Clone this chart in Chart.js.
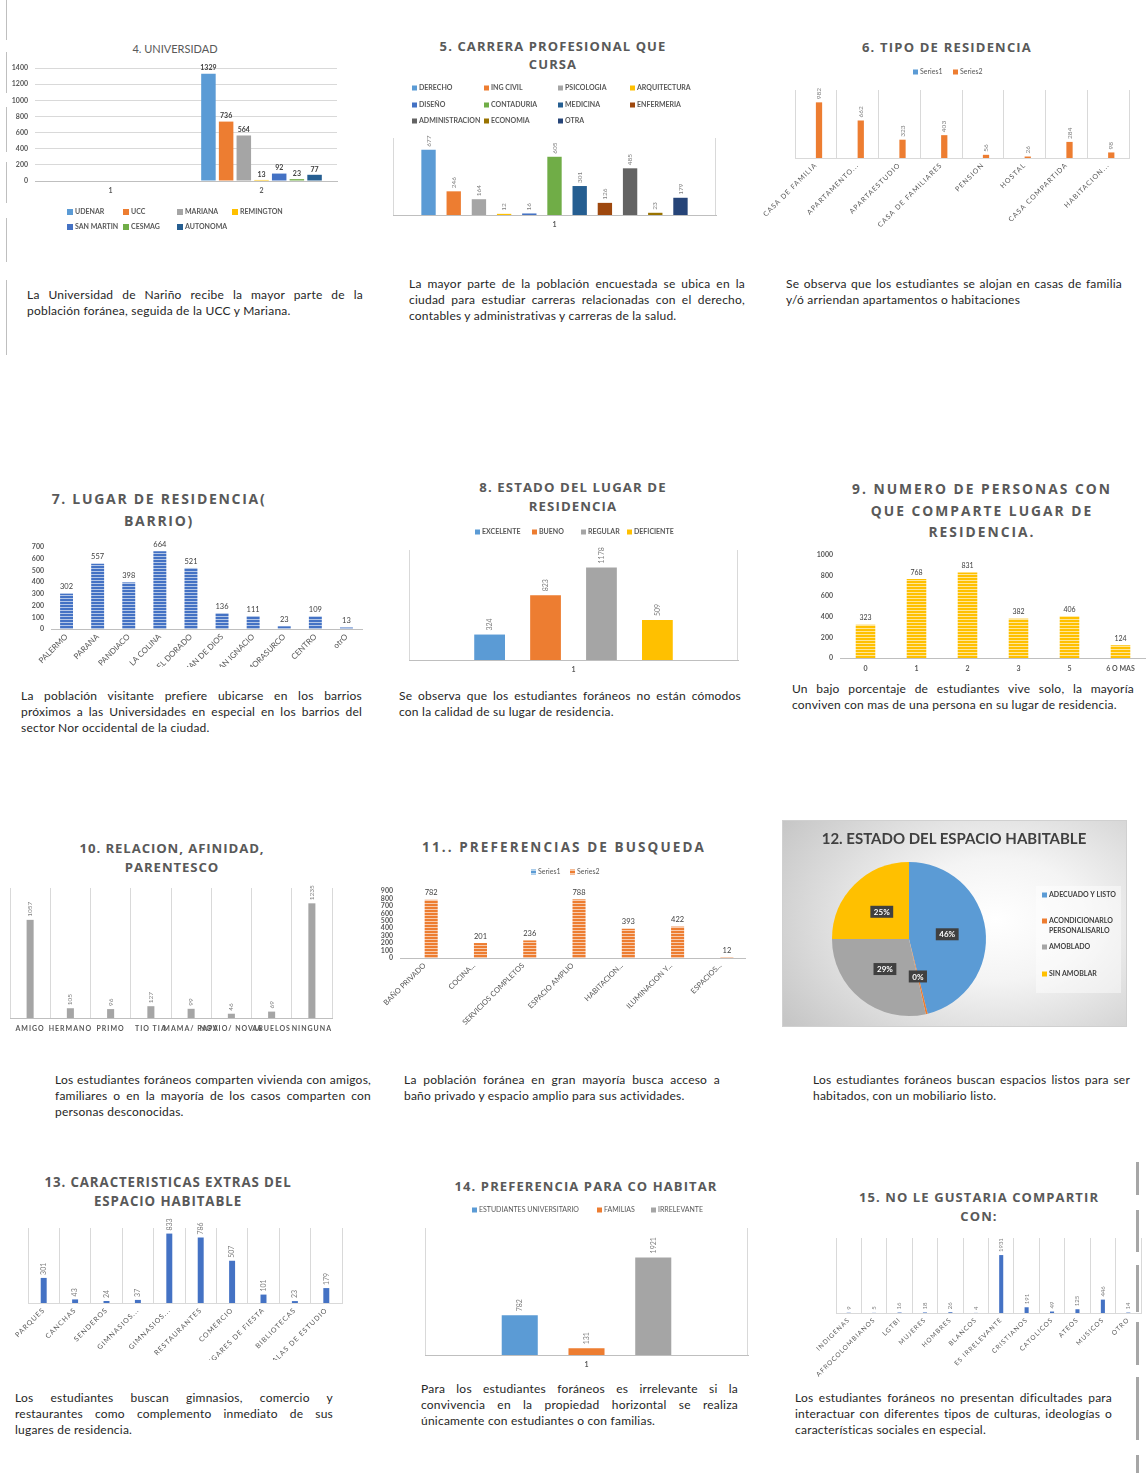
<!DOCTYPE html>
<html>
<head>
<meta charset="utf-8">
<script src="https://cdn.jsdelivr.net/npm/chart.js@4.4.1/dist/chart.umd.min.js"></script>
<style>
html, body { margin: 0; padding: 0; background: #fff; }
body { width: 1146px; height: 1473px; position: relative; overflow: hidden; font-family: Lato, "Open Sans", sans-serif; }
.box { position: absolute; }
.t { position: absolute; transform: translateX(-50%); white-space: nowrap; text-align: center;
     font-family: "Open Sans", sans-serif; font-weight: 700; color: #595959; }
.d { position: absolute; font-size: 12px; letter-spacing: 0.22px; line-height: 16px; color: #262626; }
.d span { display: block; text-align: left; white-space: nowrap; }
.d span.j { text-align: justify; text-align-last: justify; }
.vl { position: absolute; background: #bfbfbf; }
</style>
</head>
<body>

<!-- side marks -->
<div class="vl" style="left:6px;top:0;width:1px;height:40px"></div>
<div class="vl" style="left:6px;top:52px;width:1px;height:41px"></div>
<div class="vl" style="left:6px;top:107px;width:1px;height:45px"></div>
<div class="vl" style="left:6px;top:162px;width:1px;height:41px"></div>
<div class="vl" style="left:6px;top:218px;width:1px;height:44px"></div>
<div class="vl" style="left:6px;top:280px;width:1px;height:75px"></div>
<div class="vl" style="left:1136px;top:1162px;width:3px;height:33px;background:#a6a6a6"></div>
<div class="vl" style="left:1136px;top:1210px;width:3px;height:42px;background:#a6a6a6"></div>
<div class="vl" style="left:1136px;top:1265px;width:3px;height:47px;background:#a6a6a6"></div>
<div class="vl" style="left:1136px;top:1322px;width:3px;height:43px;background:#a6a6a6"></div>
<div class="vl" style="left:1136px;top:1377px;width:3px;height:63px;background:#a6a6a6"></div>
<div class="vl" style="left:1136px;top:1455px;width:3px;height:18px;background:#a6a6a6"></div>

<!-- row 1 -->
<div class="t" style="left:175px;top:41px;font-family:Lato,sans-serif;font-weight:400;font-size:11px;line-height:16px">4. UNIVERSIDAD</div>
<div class="box" style="left:0;top:55px;width:345px;height:185px"><canvas id="c4"></canvas></div>

<div class="t" style="left:553px;top:37px;font-size:13px;line-height:18px;letter-spacing:1.1px">5. CARRERA PROFESIONAL QUE<br>CURSA</div>
<div class="box" style="left:385px;top:78px;width:340px;height:160px"><canvas id="c5"></canvas></div>

<div class="t" style="left:947px;top:38px;font-size:13px;line-height:18px;letter-spacing:1.2px">6. TIPO DE RESIDENCIA</div>
<div class="box" style="left:756px;top:62px;width:390px;height:178px"><canvas id="c6"></canvas></div>

<div class="d" style="left:27px;top:287px;width:336px"><span class="j">La Universidad de Nariño recibe la mayor parte de la</span><span>población foránea, seguida de la UCC y Mariana.</span></div>
<div class="d" style="left:409px;top:276px;width:336px"><span class="j">La mayor parte de la población encuestada se ubica en la</span><span class="j">ciudad para estudiar carreras relacionadas con el derecho,</span><span>contables y administrativas y carreras de la salud.</span></div>
<div class="d" style="left:786px;top:276px;width:336px"><span class="j">Se observa que los estudiantes se alojan en casas de familia</span><span>y/ó arriendan apartamentos o habitaciones</span></div>

<!-- row 2 -->
<div class="t" style="left:159px;top:488px;font-size:14px;line-height:22px;letter-spacing:1.7px">7. LUGAR DE RESIDENCIA(<br>BARRIO)</div>
<div class="box" style="left:0;top:530px;width:375px;height:137px"><canvas id="c7"></canvas></div>

<div class="t" style="left:573px;top:478px;font-size:13.2px;line-height:19px;letter-spacing:1.1px">8. ESTADO DEL LUGAR DE<br>RESIDENCIA</div>
<div class="box" style="left:390px;top:520px;width:365px;height:160px"><canvas id="c8"></canvas></div>

<div class="t" style="left:982px;top:478px;font-size:13.8px;line-height:21.5px;letter-spacing:2px">9. NUMERO DE PERSONAS CON<br>QUE COMPARTE LUGAR DE<br>RESIDENCIA.</div>
<div class="box" style="left:800px;top:545px;width:346px;height:135px"><canvas id="c9"></canvas></div>

<div class="d" style="left:21px;top:688px;width:341px"><span class="j">La población visitante prefiere ubicarse en los barrios</span><span class="j">próximos a las Universidades en especial en los barrios del</span><span>sector Nor occidental de la ciudad.</span></div>
<div class="d" style="left:399px;top:688px;width:342px"><span class="j">Se observa que los estudiantes foráneos no están cómodos</span><span>con la calidad de su lugar de residencia.</span></div>
<div class="d" style="left:792px;top:681px;width:342px"><span class="j">Un bajo porcentaje de estudiantes vive solo, la mayoría</span><span>conviven con mas de una persona en su lugar de residencia.</span></div>

<!-- row 3 -->
<div class="t" style="left:172px;top:839px;font-size:13.2px;line-height:19px;letter-spacing:0.9px">10. RELACION, AFINIDAD,<br>PARENTESCO</div>
<div class="box" style="left:0;top:880px;width:345px;height:160px"><canvas id="c10"></canvas></div>

<div class="t" style="left:564px;top:837px;font-size:13.5px;line-height:20px;letter-spacing:2.1px">11.. PREFERENCIAS DE BUSQUEDA</div>
<div class="box" style="left:375px;top:862px;width:375px;height:178px"><canvas id="c11"></canvas></div>

<div class="box" style="left:782px;top:820px;width:345px;height:207px;box-sizing:border-box;border:1px solid #d0d0d0;background:radial-gradient(ellipse 75% 85% at 62% 48%, #ffffff 0%, #f4f4f4 35%, #c6c6c6 100%)"><canvas id="c12"></canvas></div>
<div class="t" style="left:954px;top:828px;font-family:Lato,sans-serif;font-size:15px;line-height:20px;color:#404040">12. ESTADO DEL ESPACIO HABITABLE</div>

<div class="d" style="left:55px;top:1072px;width:316px"><span class="j">Los estudiantes foráneos comparten vivienda con amigos,</span><span class="j">familiares o en la mayoría de los casos comparten con</span><span>personas desconocidas.</span></div>
<div class="d" style="left:404px;top:1072px;width:316px"><span class="j">La población foránea en gran mayoría busca acceso a</span><span>baño privado y espacio amplio para sus actividades.</span></div>
<div class="d" style="left:813px;top:1072px;width:317px"><span class="j">Los estudiantes foráneos buscan espacios listos para ser</span><span>habitados, con un mobiliario listo.</span></div>

<!-- row 4 -->
<div class="t" style="left:168px;top:1173px;font-size:13.3px;line-height:19px;letter-spacing:0.9px">13. CARACTERISTICAS EXTRAS DEL<br>ESPACIO HABITABLE</div>
<div class="box" style="left:0;top:1215px;width:350px;height:145px"><canvas id="c13"></canvas></div>

<div class="t" style="left:586px;top:1176px;font-size:13px;line-height:20px;letter-spacing:1.1px">14. PREFERENCIA PARA CO HABITAR</div>
<div class="box" style="left:400px;top:1198px;width:360px;height:178px"><canvas id="c14"></canvas></div>

<div class="t" style="left:979px;top:1188px;font-size:13px;line-height:19px;letter-spacing:1.1px">15. NO LE GUSTARIA COMPARTIR<br>CON:</div>
<div class="box" style="left:770px;top:1228px;width:376px;height:160px"><canvas id="c15"></canvas></div>

<div class="d" style="left:15px;top:1390px;width:318px"><span class="j">Los estudiantes buscan gimnasios, comercio y</span><span class="j">restaurantes como complemento inmediato de sus</span><span>lugares de residencia.</span></div>
<div class="d" style="left:421px;top:1381px;width:317px"><span class="j">Para los estudiantes foráneos es irrelevante si la</span><span class="j">convivencia en la propiedad horizontal se realiza</span><span>únicamente con estudiantes o con familias.</span></div>
<div class="d" style="left:795px;top:1390px;width:317px"><span class="j">Los estudiantes foráneos no presentan dificultades para</span><span class="j">interactuar con diferentes tipos de culturas, ideologías o</span><span>características sociales en especial.</span></div>

<script>
// ---- data ----
// 4. universidad
const uniCats = ['1', '2'];
const uniNames = ['UDENAR', 'UCC', 'MARIANA', 'REMINGTON', 'SAN MARTIN', 'CESMAG', 'AUTONOMA'];
const uniValues = [1329, 736, 564, 13, 92, 23, 77];
const uniColors = ['#5B9BD5', '#ED7D31', '#A5A5A5', '#FFC000', '#4472C4', '#70AD47', '#255E91'];

// 5. carrera
const careerCats = ['1'];
const careerNames = ['DERECHO', 'ING CIVIL', 'PSICOLOGIA', 'ARQUITECTURA', 'DISEÑO', 'CONTADURIA',
  'MEDICINA', 'ENFERMERIA', 'ADMINISTRACION', 'ECONOMIA', 'OTRA'];
const careerValues = [677, 246, 164, 12, 16, 605, 301, 126, 485, 23, 179];
const careerColors = ['#5B9BD5', '#ED7D31', '#A5A5A5', '#FFC000', '#4472C4', '#70AD47',
  '#255E91', '#9E480E', '#636363', '#997300', '#264478'];

// 6. tipo de residencia
const residCats = ['CASA DE FAMILIA', 'APARTAMENTO...', 'APARTAESTUDIO', 'CASA DE FAMILIARES',
  'PENSION', 'HOSTAL', 'CASA COMPARTIDA', 'HABITACION...'];
const residSeries1 = [null, null, null, null, null, null, null, null];
const residSeries2 = [982, 662, 323, 403, 56, 26, 284, 98];

// 7. barrio
const barrioCats = ['PALERMO', 'PARANA', 'PANDIACO', 'LA COLINA', 'EL DORADO', 'SAN JUAN DE DIOS',
  'SAN IGNACIO', 'MORASURCO', 'CENTRO', 'otrO'];
const barrioValues = [302, 557, 398, 664, 521, 136, 111, 23, 109, 13];

// 8. estado del lugar
const estadoCats = ['1'];
const estadoNames = ['EXCELENTE', 'BUENO', 'REGULAR', 'DEFICIENTE'];
const estadoValues = [324, 823, 1178, 509];

// 9. personas
const personCats = ['0', '1', '2', '3', '5', '6 O MAS'];
const personValues = [323, 768, 831, 382, 406, 124];

// 10. relacion
const relCats = ['AMIGO', 'HERMANO', 'PRIMO', 'TIO TIA', 'MAMA/ PAPA', 'NOVIO/ NOVIA', 'ABUELOS', 'NINGUNA'];
const relValues = [1057, 105, 96, 127, 99, 46, 69, 1235];

// 11. preferencias
const prefCats = ['BAÑO PRIVADO', 'COCINA...', 'SERVICIOS COMPLETOS', 'ESPACIO AMPLIO',
  'HABITACION...', 'ILUMINACION Y...', 'ESPACIOS...'];
const prefSeries1 = [null, null, null, null, null, null, null];
const prefSeries2 = [782, 201, 236, 788, 393, 422, 12];

// 12. espacio habitable (percent)
const espacioNames = ['ADECUADO Y LISTO', ['ACONDICIONARLO', 'PERSONALISARLO'], 'AMOBLADO', 'SIN AMOBLAR'];
const espacioValues = [46.1, 0.4, 28.5, 25];
const espacioColors = ['#5B9BD5', '#ED7D31', '#A5A5A5', '#FFC000'];

// 13. extras
const extraCats = ['PARQUES', 'CANCHAS', 'SENDEROS', 'GIMNASIOS...', 'GIMNASIOS...', 'RESTAURANTES',
  'COMERCIO', 'LUGARES DE FIESTA', 'BIBLIOTECAS', 'SALAS DE ESTUDIO'];
const extraValues = [301, 43, 24, 37, 833, 786, 507, 101, 23, 179];

// 14. co habitar
const coCats = ['1'];
const coNames = ['ESTUDIANTES UNIVERSITARIO', 'FAMILIAS', 'IRRELEVANTE'];
const coValues = [782, 131, 1921];

// 15. no compartir
const noCats = ['INDIGENAS', 'AFROCOLOMBIANOS', 'LGTBI', 'MUJERES', 'HOMBRES', 'BLANCOS',
  'ES IRRELEVANTE', 'CRISTIANOS', 'CATOLICOS', 'ATEOS', 'MUSICOS', 'OTRO'];
const noValues = [9, 5, 16, 18, 26, 4, 1931, 191, 49, 125, 446, 14];

// ---- look ----
const GRID = '#D9D9D9';
const AXIS = '#BFBFBF';
const TXT = '#595959';
const FONT = 'Lato, "Open Sans", sans-serif';

Chart.defaults.font.family = FONT;
Chart.defaults.font.size = 7;
Chart.defaults.color = TXT;
Chart.defaults.animation = false;
Chart.defaults.events = [];
Chart.defaults.plugins.legend.display = false;
Chart.defaults.plugins.tooltip.enabled = false;

// striped fill like the excel texture
function stripes(base, line) {
  const c = document.createElement('canvas');
  c.width = 4; c.height = 3;
  const g = c.getContext('2d');
  g.fillStyle = base; g.fillRect(0, 0, 4, 3);
  g.fillStyle = line; g.fillRect(0, 2, 4, 1);
  return g.createPattern(c, 'repeat');
}

// value labels over the bars
const valueLabels = {
  id: 'valueLabels',
  afterDatasetsDraw(chart, args, opts) {
    if (!opts.font) return;
    const ctx = chart.ctx;
    ctx.save();
    ctx.letterSpacing = '0px';
    ctx.font = opts.font;
    ctx.fillStyle = opts.color;
    chart.data.datasets.forEach((ds, i) => {
      chart.getDatasetMeta(i).data.forEach((bar, j) => {
        const v = ds.data[j];
        if (v === null || v === undefined) return;
        const p = bar.getProps(['x', 'y'], true);
        if (opts.rotate) {
          ctx.save();
          ctx.translate(p.x, p.y - opts.offset);
          ctx.rotate(-Math.PI / 2);
          ctx.textAlign = 'left';
          ctx.textBaseline = 'middle';
          ctx.fillText(String(v), 0, 0);
          ctx.restore();
        } else {
          ctx.textAlign = 'center';
          ctx.textBaseline = 'bottom';
          ctx.fillText(String(v), p.x, p.y - opts.offset);
        }
      });
    });
    ctx.restore();
  }
};

// legend boxes placed where excel put them
const boxLegend = {
  id: 'boxLegend',
  afterDraw(chart, args, opts) {
    if (!opts.at) return;
    const ctx = chart.ctx;
    const pie = chart.config.type === 'pie';
    const ds0 = chart.data.datasets[0];
    const items = pie
      ? chart.data.labels.map((t, i) => ({ text: t, fill: ds0.backgroundColor[i] }))
      : chart.data.datasets.map(d => ({ text: d.label, fill: d.backgroundColor }));
    const s = opts.box || 5;
    ctx.save();
    ctx.letterSpacing = '0px';
    if (opts.panel) {
      ctx.fillStyle = opts.panel[4];
      ctx.fillRect(opts.panel[0], opts.panel[1], opts.panel[2], opts.panel[3]);
    }
    ctx.font = opts.font;
    ctx.textAlign = 'left';
    ctx.textBaseline = 'middle';
    items.forEach((it, i) => {
      const [x, y] = opts.at[i];
      ctx.fillStyle = it.fill;
      ctx.fillRect(x, y - s / 2, s, s);
      ctx.fillStyle = opts.color;
      const lines = Array.isArray(it.text) ? it.text : [it.text];
      lines.forEach((ln, k) => ctx.fillText(ln, x + s + 2, y + k * (opts.lineH || 10)));
    });
    ctx.restore();
  }
};

// left / right plot edges
const plotBorder = {
  id: 'plotBorder',
  afterDraw(chart, args, opts) {
    if (!opts.color) return;
    const a = chart.chartArea;
    const ctx = chart.ctx;
    ctx.save();
    ctx.strokeStyle = opts.color;
    ctx.lineWidth = 1;
    ctx.beginPath();
    ctx.moveTo(Math.round(a.left) + 0.5, a.top);
    ctx.lineTo(Math.round(a.left) + 0.5, a.bottom);
    ctx.moveTo(Math.round(a.right) - 0.5, a.top);
    ctx.lineTo(Math.round(a.right) - 0.5, a.bottom);
    ctx.stroke();
    ctx.restore();
  }
};

// percent tags on the pie
const pctLabels = {
  id: 'pctLabels',
  afterDatasetsDraw(chart, args, opts) {
    if (!opts.font) return;
    const ctx = chart.ctx;
    const ds = chart.data.datasets[0];
    const total = ds.data.reduce((a, b) => a + b, 0);
    ctx.save();
    ctx.font = opts.font;
    ctx.textAlign = 'center';
    ctx.textBaseline = 'middle';
    chart.getDatasetMeta(0).data.forEach((arc, i) => {
      const p = arc.getProps(['x', 'y', 'startAngle', 'endAngle', 'outerRadius'], true);
      const mid = (p.startAngle + p.endAngle) / 2;
      const r = p.outerRadius * opts.at;
      const cx = p.x + Math.cos(mid) * r;
      const cy = p.y + Math.sin(mid) * r;
      const txt = Math.round(ds.data[i] * 100 / total) + '%';
      const w = ctx.measureText(txt).width + 7;
      ctx.fillStyle = opts.bg;
      ctx.fillRect(cx - w / 2, cy - 6, w, 12);
      ctx.fillStyle = opts.color;
      ctx.fillText(txt, cx, cy + 0.5);
    });
    ctx.restore();
  }
};

// spaced-out tick text
const letterSpace = {
  id: 'letterSpace',
  beforeDraw(chart, args, opts) { chart.ctx.letterSpacing = (opts.px || 0) + 'px'; },
  afterDraw(chart) { chart.ctx.letterSpacing = '0px'; }
};

Chart.register(valueLabels, boxLegend, plotBorder, pctLabels, letterSpace);

const fixW = w => s => { s.width = w; s.paddingTop = 0; s.paddingBottom = 0; };
const fixH = h => s => { s.height = h; s.paddingLeft = 0; s.paddingRight = 0; };

function catX(h, ticks, grid) {
  return {
    afterFit: fixH(h),
    grid: grid || { display: false, drawTicks: false },
    border: { display: true, color: AXIS },
    ticks: Object.assign({ padding: 5, autoSkip: false, maxRotation: 0, font: { size: 7, weight: 'bold' } }, ticks || {})
  };
}
function rotX(h, size) {
  return catX(h, { padding: 3, maxRotation: 45, minRotation: 45, font: { size: size || 7 } });
}
function valY(max, step, w, grid) {
  return {
    min: 0, max: max, afterFit: fixW(w),
    grid: grid ? { color: GRID, drawTicks: false } : { display: false, drawTicks: false },
    border: { display: false },
    ticks: { stepSize: step, autoSkip: false, padding: 7, font: { size: 7, weight: 'bold' }, callback: v => String(v) }
  };
}
const hideY = max => ({ display: false, min: 0, max: max });
const catGrid = { display: true, color: GRID, drawTicks: false };

function make(id, type, data, options) {
  options.responsive = true;
  options.maintainAspectRatio = false;
  return new Chart(document.getElementById(id), { type: type, data: data, options: options });
}

// 4
make('c4', 'bar', {
  labels: uniCats,
  datasets: uniNames.map((n, i) => ({
    label: n, data: [null, uniValues[i]], backgroundColor: uniColors[i],
    categoryPercentage: 0.82, barPercentage: 0.82
  }))
}, {
  layout: { padding: { top: 13, left: 0, right: 8, bottom: 43 } },
  scales: { x: catX(16, { padding: 6 }), y: valY(1400, 200, 35, true) },
  plugins: {
    valueLabels: { font: 'bold 7px ' + FONT, color: '#404040', offset: 2 },
    boxLegend: { at: [[67, 157], [123, 157], [177, 157], [232, 157], [67, 172], [123, 172], [177, 172]],
      box: 6, font: 'bold 7px ' + FONT, color: TXT }
  }
});

// 5
make('c5', 'bar', {
  labels: careerCats,
  datasets: careerNames.map((n, i) => ({
    label: n, data: [careerValues[i]], backgroundColor: careerColors[i],
    categoryPercentage: 0.858, barPercentage: 0.57
  }))
}, {
  layout: { padding: { top: 60, left: 8, right: 9, bottom: 8 } },
  scales: { x: catX(15, { padding: 6 }), y: hideY(800) },
  plugins: {
    valueLabels: { font: '6.5px ' + FONT, color: '#7F7F7F', offset: 3, rotate: true },
    plotBorder: { color: GRID },
    boxLegend: { at: [[27, 10], [99, 10], [173, 10], [245, 10], [27, 27], [99, 27], [173, 27], [245, 27],
      [27, 43], [99, 43], [173, 43]], box: 5, font: 'bold 7px ' + FONT, color: TXT }
  }
});

// 6
make('c6', 'bar', {
  labels: residCats,
  datasets: [
    { label: 'Series1', data: residSeries1, backgroundColor: '#5B9BD5', categoryPercentage: 0.3, barPercentage: 1 },
    { label: 'Series2', data: residSeries2, backgroundColor: '#ED7D31', categoryPercentage: 0.3, barPercentage: 1 }
  ]
}, {
  layout: { padding: { top: 28, left: 39, right: 17, bottom: 0 } },
  scales: { x: Object.assign(rotX(82), { grid: catGrid, border: { display: true, color: GRID } }), y: hideY(1200) },
  plugins: {
    letterSpace: { px: 1 },
    valueLabels: { font: '6.5px ' + FONT, color: '#7F7F7F', offset: 3, rotate: true },
    boxLegend: { at: [[157, 10], [197, 10]], box: 5, font: '7px ' + FONT, color: TXT }
  }
});

// 7
make('c7', 'bar', {
  labels: barrioCats,
  datasets: [{ label: 'BARRIO', data: barrioValues, backgroundColor: stripes('#4472C4', '#B4C7E7'),
    categoryPercentage: 0.8, barPercentage: 0.52 }]
}, {
  layout: { padding: { top: 17, left: 0, right: 13, bottom: 0 } },
  scales: { x: rotX(38, 8), y: valY(700, 100, 51, false) },
  plugins: {
    valueLabels: { font: '7.5px ' + FONT, color: '#404040', offset: 3 }
  }
});

// 8
make('c8', 'bar', {
  labels: estadoCats,
  datasets: estadoNames.map((n, i) => ({
    label: n, data: [estadoValues[i]], backgroundColor: ['#5B9BD5', '#ED7D31', '#A5A5A5', '#FFC000'][i],
    categoryPercentage: 0.68, barPercentage: 0.55
  }))
}, {
  layout: { padding: { top: 30, left: 19, right: 17, bottom: 5 } },
  scales: { x: catX(15, { padding: 6 }), y: hideY(1400) },
  plugins: {
    valueLabels: { font: '7px ' + FONT, color: '#7F7F7F', offset: 4, rotate: true },
    plotBorder: { color: GRID },
    boxLegend: { at: [[85, 12], [142, 12], [191, 12], [237, 12]], box: 5, font: 'bold 7px ' + FONT, color: TXT }
  }
});

// 9
make('c9', 'bar', {
  labels: personCats,
  datasets: [{ label: 'PERSONAS', data: personValues, backgroundColor: stripes('#FFC000', '#FFE699'),
    categoryPercentage: 0.8, barPercentage: 0.48 }]
}, {
  layout: { padding: { top: 10, left: 0, right: 0, bottom: 0 } },
  scales: { x: catX(22, { padding: 7 }), y: valY(1000, 200, 40, false) },
  plugins: {
    valueLabels: { font: '7px ' + FONT, color: '#404040', offset: 3 }
  }
});

// 10
make('c10', 'bar', {
  labels: relCats,
  datasets: [{ label: 'RELACION', data: relValues, backgroundColor: '#A5A5A5',
    categoryPercentage: 0.5, barPercentage: 0.35 }]
}, {
  layout: { padding: { top: 8, left: 10, right: 13, bottom: 0 } },
  scales: { x: catX(22, { padding: 7 }, catGrid), y: hideY(1400) },
  plugins: {
    letterSpace: { px: 1 },
    valueLabels: { font: '6.5px ' + FONT, color: '#7F7F7F', offset: 3, rotate: true }
  }
});

// 11
make('c11', 'bar', {
  labels: prefCats,
  datasets: [
    { label: 'Series1', data: prefSeries1, backgroundColor: stripes('#5B9BD5', '#BDD7EE'), categoryPercentage: 0.53, barPercentage: 1 },
    { label: 'Series2', data: prefSeries2, backgroundColor: stripes('#ED7D31', '#F8CBAD'), categoryPercentage: 0.53, barPercentage: 1 }
  ]
}, {
  layout: { padding: { top: 29, left: 0, right: 5, bottom: 0 } },
  scales: { x: rotX(82, 7.5), y: valY(900, 100, 25, false) },
  plugins: {
    valueLabels: { font: '7.5px ' + FONT, color: '#404040', offset: 3 },
    boxLegend: { at: [[156, 10], [195, 10]], box: 5, font: '7px ' + FONT, color: TXT }
  }
});

// 12
make('c12', 'pie', {
  labels: espacioNames,
  datasets: [{ data: espacioValues, backgroundColor: espacioColors, borderWidth: 0, hoverOffset: 0 }]
}, {
  layout: { padding: { top: 41, left: 49, right: 140, bottom: 10 } },
  plugins: {
    pctLabels: { font: 'bold 8px ' + FONT, color: '#ffffff', bg: '#404040', at: 0.5 },
    boxLegend: { at: [[259, 74], [259, 100], [259, 126], [259, 153]], box: 5, lineH: 10,
      panel: [253, 65, 85, 107, 'rgba(255,255,255,0.45)'], font: 'bold 7px ' + FONT, color: '#404040' }
  }
});

// 13
make('c13', 'bar', {
  labels: extraCats,
  datasets: [{ label: 'EXTRAS', data: extraValues, backgroundColor: '#4472C4',
    categoryPercentage: 0.5, barPercentage: 0.38 }]
}, {
  layout: { padding: { top: 13, left: 28, right: 8, bottom: 0 } },
  scales: { x: Object.assign(rotX(57), { grid: catGrid, border: { display: true, color: GRID } }), y: hideY(900) },
  plugins: {
    letterSpace: { px: 1 },
    valueLabels: { font: '7px ' + FONT, color: '#7F7F7F', offset: 3, rotate: true }
  }
});

// 14
make('c14', 'bar', {
  labels: coCats,
  datasets: coNames.map((n, i) => ({
    label: n, data: [coValues[i]], backgroundColor: ['#5B9BD5', '#ED7D31', '#A5A5A5'][i],
    categoryPercentage: 0.62, barPercentage: 0.54
  }))
}, {
  layout: { padding: { top: 30, left: 25, right: 12, bottom: 6 } },
  scales: { x: catX(15, { padding: 6 }), y: hideY(2500) },
  plugins: {
    valueLabels: { font: '7px ' + FONT, color: '#7F7F7F', offset: 4, rotate: true },
    plotBorder: { color: GRID },
    boxLegend: { at: [[72, 12], [197, 12], [251, 12]], box: 5, font: '7px ' + FONT, color: TXT }
  }
});

// 15
make('c15', 'bar', {
  labels: noCats,
  datasets: [{ label: 'NO COMPARTIR', data: noValues, backgroundColor: '#4472C4',
    categoryPercentage: 0.5, barPercentage: 0.32 }]
}, {
  layout: { padding: { top: 10, left: 66, right: 5, bottom: 0 } },
  scales: { x: Object.assign(rotX(75, 6.5), { grid: catGrid, border: { display: true, color: GRID } }), y: hideY(2500) },
  plugins: {
    letterSpace: { px: 1 },
    valueLabels: { font: '6px ' + FONT, color: '#7F7F7F', offset: 3, rotate: true }
  }
});
</script>
</body>
</html>
